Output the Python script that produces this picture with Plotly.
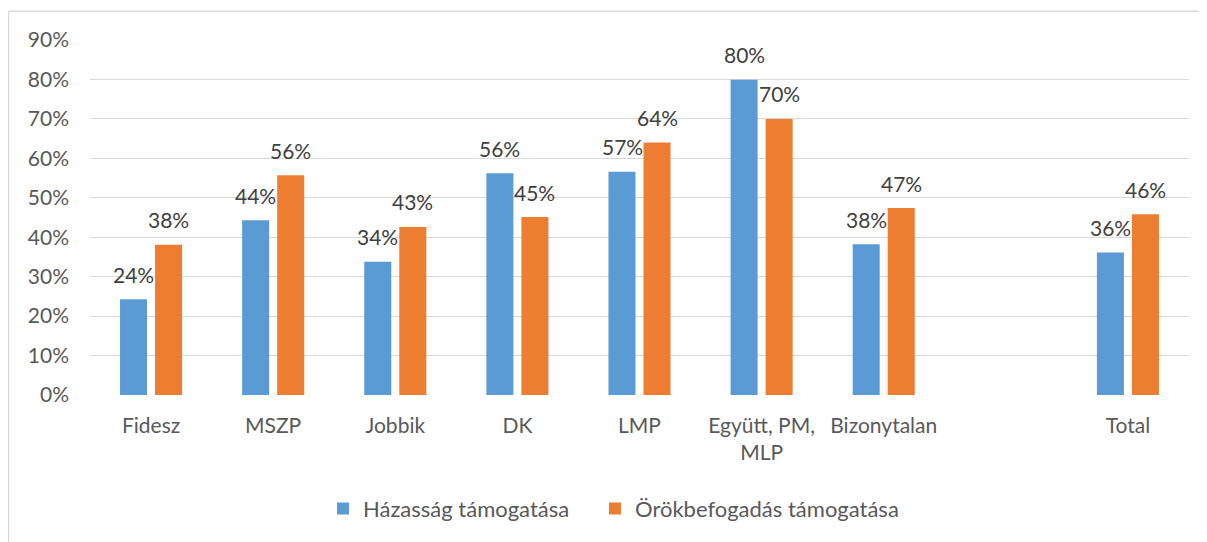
import plotly.graph_objects as go

categories = ["Fidesz", "MSZP", "Jobbik", "DK", "LMP", "Együtt, PM,<br>MLP", "Bizonytalan", " ", "Total"]
series_names = ["Házasság támogatása", "Örökbefogadás támogatása"]
hazassag = [24.3, 44.3, 33.8, 56.2, 56.6, 79.9, 38.2, None, 36.1]
orokbefogadas = [38.1, 55.7, 42.6, 45.1, 64.0, 70.0, 47.4, None, 45.8]
y_ticks = [0, 10, 20, 30, 40, 50, 60, 70, 80, 90]

colors = ["#5B9BD5", "#ED7D31"]
FONT = "Lato"
TXT = "#404040"
AX = "#595959"
GRID = "#d9d9d9"
FS = 21

fig = go.Figure()
for name, vals, col, lg in zip(series_names, [hazassag, orokbefogadas], colors, ["legend", "legend2"]):
    fig.add_trace(go.Bar(x=categories, y=vals, name=name, legend=lg,
                         marker=dict(color=col, line=dict(width=0))))

annotations = []
for shift, vals in zip([-17.5, 17.5], [hazassag, orokbefogadas]):
    for c, v in zip(categories, vals):
        if v is None:
            continue
        annotations.append(dict(x=c, y=v, xref="x", yref="y", text=f"{round(v)}%",
                                showarrow=False, xshift=shift, yshift=25, yanchor="middle",
                                font=dict(family=FONT, size=FS, color=TXT)))

legend_common = dict(orientation="h", xanchor="left", y=-0.32, yanchor="middle",
                     font=dict(family=FONT, size=22, color=AX), itemwidth=30,
                     bgcolor="rgba(0,0,0,0)")

fig.update_layout(
    width=1199, height=534,
    margin=dict(l=82, r=18, t=32, b=145),
    paper_bgcolor="white", plot_bgcolor="white",
    barmode="group", bargap=0.426, bargroupgap=0.229,
    font=dict(family=FONT, size=FS, color=AX),
    showlegend=True,
    legend=dict(x=0.212, **legend_common),
    legend2=dict(x=0.4595, **legend_common),
    annotations=annotations,
    shapes=[
        dict(type="line", xref="paper", yref="paper", x0=-0.0742, x1=-0.0742, y0=-0.45, y1=1.081,
             line=dict(color=GRID, width=1.5), layer="below"),
        dict(type="line", xref="paper", yref="paper", x0=-0.0742, x1=1.1, y0=1.081, y1=1.081,
             line=dict(color=GRID, width=1.5), layer="below"),
    ],
)
fig.update_yaxes(range=[0, 90], tickvals=y_ticks, ticktext=[f"{t}%" for t in y_ticks],
                 showgrid=True, gridcolor=GRID, gridwidth=1.3, zeroline=False, showline=False,
                 tickfont=dict(family=FONT, size=FS, color=AX), ticklabelstandoff=20)
fig.update_xaxes(type="category", categoryorder="array", categoryarray=categories,
                 showgrid=False, showline=False, ticks="",
                 tickfont=dict(family=FONT, size=FS, color=AX), ticklabelstandoff=16)

fig.write_html("out.html")
